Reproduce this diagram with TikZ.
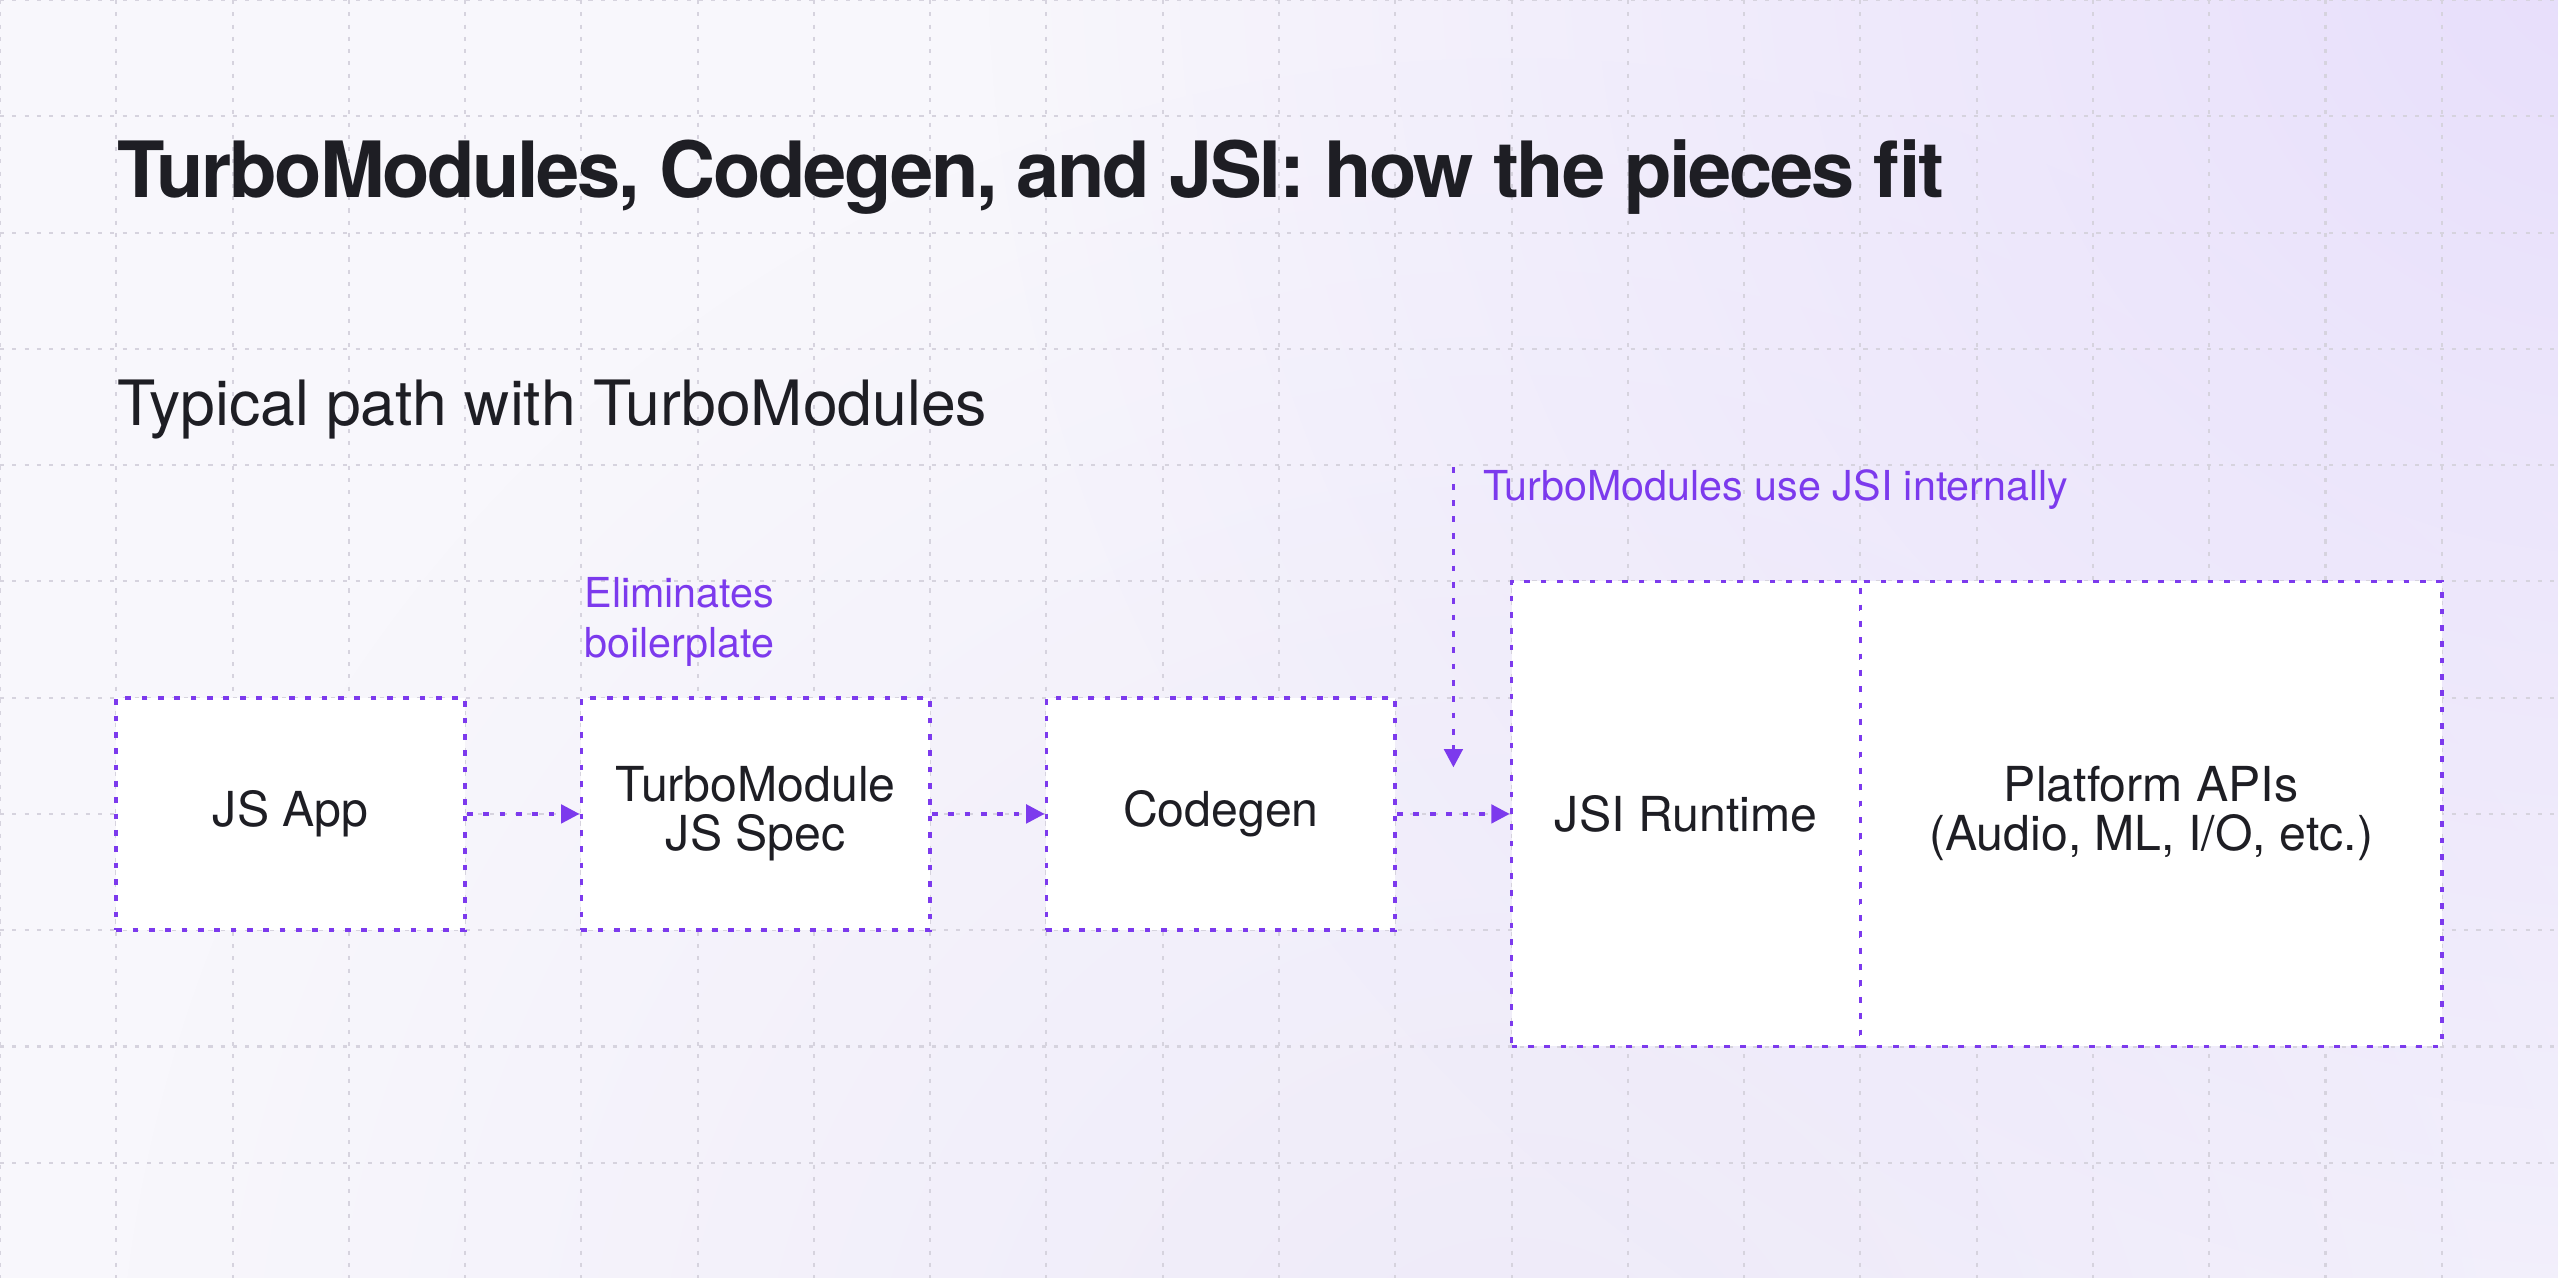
\documentclass[tikz,border=0pt]{standalone}
\usepackage{fontspec}
\setmainfont{TeX Gyre Heros}
\usetikzlibrary{arrows.meta,fadings}
\definecolor{bgA}{HTML}{F8F7FC}
\definecolor{bgB}{HTML}{E7DEFB}
\definecolor{bgC}{HTML}{EEEAF9}
\definecolor{gridc}{HTML}{D6D3DE}
\definecolor{vio}{HTML}{7C3AED}
\definecolor{ink}{HTML}{1E1E24}
\tikzfading[name=glow, inner color=transparent!0, outer color=transparent!100]
\begin{document}
\begin{tikzpicture}[x=1cm,y=-1cm,
  box/.style={draw=vio, fill=white, line width=0.9pt, dash pattern=on 1.4pt off 2.6pt,
    text=ink, font=\fontsize{11.8}{12}\selectfont, align=center, inner sep=0pt},
  flow/.style={draw=vio, line width=0.9pt, dash pattern=on 1.4pt off 2.6pt,
    -{Triangle[length=4.5pt,width=4.5pt]}},
  note/.style={text=vio, font=\fontsize{10.1}{12.2}\selectfont, inner sep=0pt, align=left},
  gridline/.style={draw=gridc, line width=0.5pt, dash pattern=on 1pt off 2pt}]
% background
\useasboundingbox (0,0) rectangle (22,10.991);
\fill[bgA] (0,0) rectangle (22,10.991);
\begin{scope}
  \clip (0,0) rectangle (22,10.991);
  \fill[bgC, path fading=glow] (13,12.5) circle (12);
  \fill[bgB, path fading=glow] (22.5,-0.5) circle (14);
\end{scope}
% grid
\foreach \gx in {0,...,21} \draw[gridline] (\gx,0) -- (\gx,10.991);
\foreach \gy in {0,...,10} \draw[gridline] (0,\gy) -- (22,\gy);
% titles
\node[anchor=base west, inner sep=0pt, text=ink, font=\fontsize{19}{22}\selectfont\bfseries\addfontfeatures{LetterSpace=-3}] (title) at (1,1.70) {TurboModules, Codegen, and JSI: how the pieces fit};
\node[anchor=base west, inner sep=0pt, text=ink, font=\fontsize{15.3}{18}\selectfont] (subtitle) at (1,3.66) {Typical path with TurboModules};
% boxes
\node[box, minimum width=3cm, minimum height=2cm] (app) at (2.5,7) {JS App};
\node[box, minimum width=3cm, minimum height=2cm] (spec) at (6.5,7) {TurboModule\\JS Spec};
\node[box, minimum width=3cm, minimum height=2cm] (codegen) at (10.5,7) {Codegen};
\node[box, minimum width=3cm, minimum height=4cm] (jsi) at (14.5,7) {JSI Runtime};
\node[box, minimum width=5cm, minimum height=4cm] (plat) at (18.5,7) {Platform APIs\\(Audio, ML, I/O, etc.)};
% connectors
\draw[flow] (app.east) -- (spec.west);
\draw[flow] (spec.east) -- (codegen.west);
\draw[flow] (codegen.east) -- (jsi.west);
\coordinate (ntop) at (12.5,4.02);
\coordinate (nend) at (12.5,6.6);
\draw[flow] (ntop) -- (nend);
% notes
\node[note, anchor=west] (notejsi) at (12.75,4.21) {TurboModules use JSI internally};
\node[note, anchor=north west] (elim) at (5.02,4.96) {Eliminates\\boilerplate};
\end{tikzpicture}
\end{document}
